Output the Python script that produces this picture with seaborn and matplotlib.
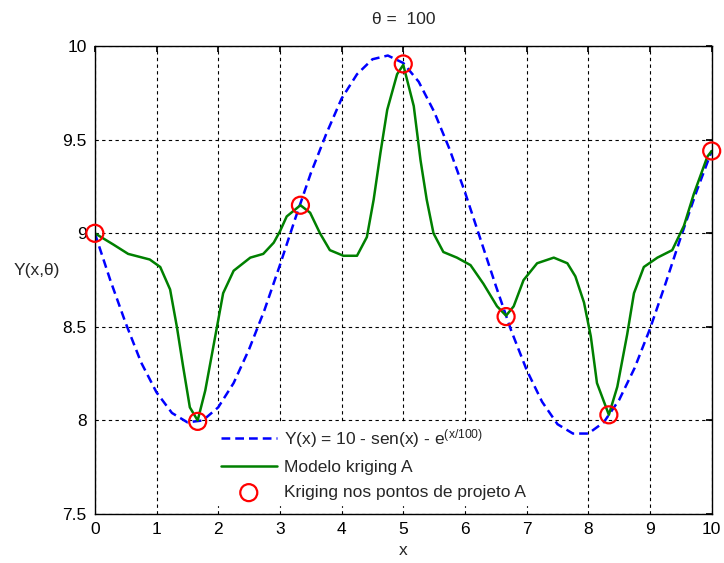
import numpy as np
import matplotlib
matplotlib.use("Agg")
import matplotlib.pyplot as plt
import seaborn as sns

# true function
x_true = [0, 0.25, 0.5, 0.75, 1.0, 1.25, 1.5, 1.75, 2.0, 2.25, 2.5, 2.75, 3.0, 3.25,
          3.5, 3.75, 4.0, 4.25, 4.5, 4.75, 5.0, 5.25, 5.5, 5.75, 6.0, 6.25, 6.5, 6.75,
          7.0, 7.25, 7.5, 7.75, 8.0, 8.25, 8.5, 8.75, 9.0, 9.25, 9.5, 9.75, 10.0]
y_true = [9.00, 8.75, 8.52, 8.31, 8.15, 8.04, 7.99, 8.00, 8.07, 8.20, 8.38, 8.59, 8.83, 9.08,
          9.32, 9.53, 9.72, 9.85, 9.93, 9.95, 9.91, 9.81, 9.65, 9.45, 9.22, 8.97, 8.72, 8.48,
          8.27, 8.10, 7.98, 7.93, 7.93, 7.99, 8.11, 8.28, 8.49, 8.73, 8.98, 9.22, 9.44]

# kriging model (green)
x_krig = [0, 0.30, 0.54, 0.89, 1.06, 1.22, 1.33, 1.43, 1.54, 1.667, 1.79, 1.98, 2.08, 2.25,
          2.52, 2.73, 2.90, 3.0, 3.11, 3.333, 3.49, 3.65, 3.81, 4.03, 4.25, 4.41, 4.52, 4.63,
          4.74, 4.90, 5.0, 5.17, 5.28, 5.38, 5.49, 5.65, 5.87, 6.09, 6.30, 6.52, 6.667, 6.79,
          6.95, 7.17, 7.44, 7.66, 7.79, 7.93, 8.04, 8.14, 8.333, 8.47, 8.63, 8.74, 8.90, 9.12,
          9.36, 9.55, 9.71, 9.93, 10.0]
y_krig = [9.0, 8.94, 8.89, 8.86, 8.82, 8.70, 8.50, 8.29, 8.07, 8.0, 8.16, 8.50, 8.68, 8.80,
          8.87, 8.89, 8.95, 9.01, 9.09, 9.15, 9.11, 9.0, 8.91, 8.88, 8.88, 8.98, 9.18, 9.43,
          9.66, 9.85, 9.90, 9.68, 9.39, 9.18, 9.0, 8.90, 8.87, 8.83, 8.73, 8.61, 8.56, 8.61,
          8.75, 8.84, 8.87, 8.84, 8.77, 8.63, 8.45, 8.20, 8.03, 8.18, 8.46, 8.68, 8.82, 8.87,
          8.91, 9.04, 9.21, 9.41, 9.44]

# design points
x_pts = [0, 1.667, 3.333, 5.0, 6.667, 8.333, 10.0]
y_pts = [9.0, 7.995, 9.15, 9.905, 8.555, 8.03, 9.44]

labels = ['Y(x) = 10 - sen(x) - e$^{(x/100)}$', 'Modelo kriging A',
          'Kriging nos pontos de projeto A']

sns.set_theme(style='white')
plt.rcParams['font.family'] = ['Liberation Sans', 'DejaVu Sans']
plt.rcParams['mathtext.default'] = 'regular'
plt.rcParams['font.size'] = 12.5

fig = plt.figure(figsize=(7.24, 5.63), dpi=100)
ax = fig.add_axes([0.131, 0.087, 0.852, 0.831])

sns.lineplot(x=x_true, y=y_true, ax=ax, color='blue', linestyle=(0, (3.5, 2)),
             linewidth=1.8, label=labels[0])
sns.lineplot(x=x_krig, y=y_krig, ax=ax, color='green', linewidth=1.8, label=labels[1])
sns.scatterplot(x=x_pts, y=y_pts, ax=ax, marker='o', s=150, facecolors='none',
                edgecolor='red', linewidth=1.6, label=labels[2], zorder=4, clip_on=False)

ax.set_xlim(0, 10)
ax.set_ylim(7.5, 10)
ax.set_xticks(range(0, 11))
ax.set_yticks([7.5, 8, 8.5, 9, 9.5, 10])
ax.set_yticklabels(['7.5', '8', '8.5', '9', '9.5', '10'])
ax.grid(True, color='black', linestyle=(0, (3, 3)), linewidth=0.8)
for s in ax.spines.values():
    s.set_color('black')
    s.set_linewidth(1.0)
ax.tick_params(direction='in', length=4, top=True, right=True, labelsize=12.5,
               colors='black', pad=6)

ax.set_title('θ =  100', fontsize=12.5, pad=16)
ax.set_xlabel('x', fontsize=12.5, labelpad=4)
ax.set_ylabel('Y(x,θ)', fontsize=12.5, rotation=0, ha='right', va='center')
ax.yaxis.set_label_coords(-0.057, 0.52)

handles, labs = ax.get_legend_handles_labels()
leg = ax.legend(handles, labs, loc='upper left', bbox_to_anchor=(0.182, 0.216),
                frameon=True, facecolor='white', edgecolor='white', framealpha=1,
                fancybox=False, fontsize=12.5, handlelength=3.2, handletextpad=0.45,
                labelspacing=0.58, borderpad=0.3)

plt.savefig('out.png', dpi=100)
